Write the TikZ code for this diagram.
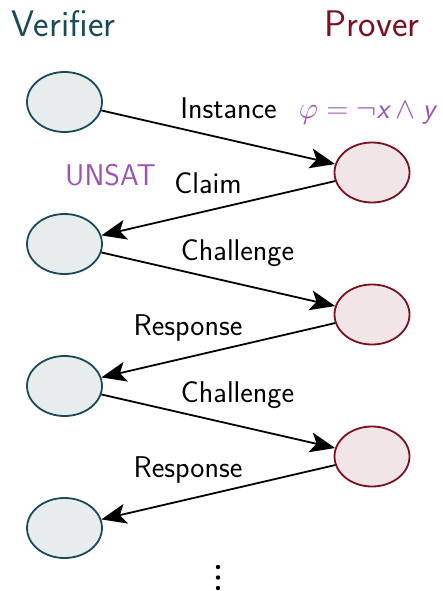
\documentclass[tikz,border=0pt]{standalone}
\usetikzlibrary{shapes.geometric,arrows.meta}
\definecolor{vcol}{HTML}{1B4A5A}
\definecolor{vfill}{HTML}{E7ECEC}
\definecolor{pcol}{HTML}{7D1020}
\definecolor{pfill}{HTML}{F1E5E7}
\definecolor{purp}{HTML}{9A55B5}
\tikzset{
  vnode/.style={ellipse,draw=vcol,fill=vfill,line width=1.8pt,minimum width=75pt,minimum height=60pt,inner sep=0pt},
  pnode/.style={ellipse,draw=pcol,fill=pfill,line width=1.8pt,minimum width=75pt,minimum height=60pt,inner sep=0pt},
  msg/.style={line width=1.8pt,-{Stealth[length=25pt,width=20pt,inset=6pt]}},
  lbl/.style={anchor=base,inner sep=0pt,font=\fontsize{30}{32}\selectfont\sffamily},
  head/.style={anchor=base,inner sep=0pt,font=\fontsize{37}{40}\selectfont\sffamily},
  dotc/.style={fill=black,draw=none}
}
\begin{document}
\begin{tikzpicture}[x=1pt,y=-1pt]
\useasboundingbox (0,0) rectangle (442,591);
\node[head,text=vcol] (hv) at (63.5,37) {Verifier};
\node[head,text=pcol] (hp) at (372,37) {Prover};
\node[vnode] (v1) at (64.5,102) {};
\node[vnode] (v2) at (64.5,244) {};
\node[vnode] (v3) at (64.5,386) {};
\node[vnode] (v4) at (64.5,528) {};
\node[pnode] (p1) at (372,172.5) {};
\node[pnode] (p2) at (372,314.5) {};
\node[pnode] (p3) at (372,456.5) {};
\draw[msg] (v1) -- (p1);
\draw[msg] (p1) -- (v2);
\draw[msg] (v2) -- (p2);
\draw[msg] (p2) -- (v3);
\draw[msg] (v3) -- (p3);
\draw[msg] (p3) -- (v4);
\node[lbl] (l1) at (228.5,119) {Instance};
\node[lbl] (l2) at (208,193) {Claim};
\node[lbl] (l3) at (237.5,260) {Challenge};
\node[lbl] (l4) at (188,335.7) {Response};
\node[lbl] (l5) at (237.5,402) {Challenge};
\node[lbl] (l6) at (188,477.7) {Response};
\node[lbl,text=purp] (un) at (110.5,185) {UNSAT};
\node[lbl,text=purp,font=\fontsize{20}{22}\selectfont\sffamily] (phi) at (367,118) {\scalebox{1.45}{$\varphi = \neg\textsf{\itshape x} \wedge \textsf{\itshape y}$}};
\fill[dotc] (218,567) circle (2.2pt);
\fill[dotc] (218,577.5) circle (2.2pt);
\fill[dotc] (218,588) circle (2.2pt);
\end{tikzpicture}
\end{document}
